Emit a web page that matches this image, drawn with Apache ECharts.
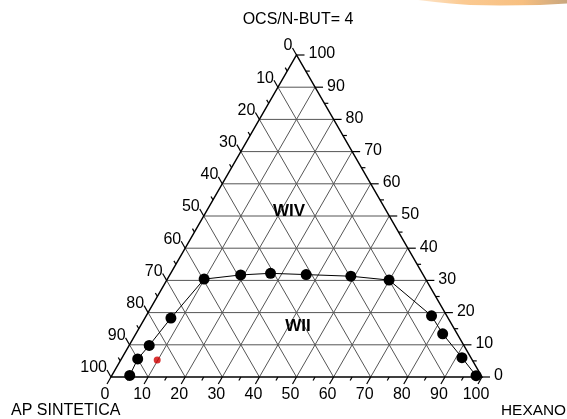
<!DOCTYPE html>
<html><head><meta charset="utf-8">
<script src="https://cdn.jsdelivr.net/npm/echarts@6/dist/echarts.min.js"></script>
<style>html,body{margin:0;padding:0;background:#fff}#c{width:567px;height:419px}</style>
</head><body><div id="c"></div>
<script>
// ---- data ----
const chartTitle = 'OCS/N-BUT= 4';
const bottomAxisName = 'HEXANO';
const leftAxisName = 'AP SINTETICA';
const majorTicks = [0, 10, 20, 30, 40, 50, 60, 70, 80, 90, 100];
const minorTicks = [5, 15, 25, 35, 45, 55, 65, 75, 85, 95];
const gridValues = [10, 20, 30, 40, 50, 60, 70, 80, 90];
// binodal curve: HEXANO % and top component (OCS/N-BUT) %
const curveHexano = [4.8, 4.4, 5.4, 7.0, 9.9, 19.1, 26.9, 36.7, 49.0, 59.9, 76.9, 82.7, 91.6, 98.2];
const curveTop    = [0.5, 5.6, 9.8, 18.3, 30.4, 31.7, 32.2, 31.8, 31.3, 30.1, 19.0, 13.4, 6.0, 0.4];
// extra (red) point
const extraHexano = [9.8];
const extraTop = [5.3];
// region labels
const regionNames = ['WIV', 'WII'];
const regionHexano = [22.2, 42.5];
const regionTop = [51.6, 15.8];

// ---- helpers ----
const SQ = Math.sqrt(3) / 2;
function tern(h, t) { return [h + t / 2, t * SQ]; }
const FONT = '"Liberation Sans", Arial, sans-serif';

const chart = echarts.init(document.getElementById('c'), null, { renderer: 'canvas' });

function renderFrame(params, api) {
  const P = (h, t) => api.coord(tern(h, t));
  const ch = [];
  const gridStyle = { stroke: '#555', lineWidth: 1 };
  const seg = (a, b, style) => ch.push({ type: 'line', shape: { x1: a[0], y1: a[1], x2: b[0], y2: b[1] }, style: style });
  gridValues.forEach(v => {
    seg(P(0, v), P(100 - v, v), gridStyle);          // horizontal (top component)
    seg(P(v, 0), P(v, 100 - v), gridStyle);          // constant hexano
    seg(P(0, 100 - v), P(100 - v, 0), gridStyle);    // constant AP
  });
  // triangle edges
  const A = P(0, 0), B = P(100, 0), C = P(0, 100);
  ch.push({ type: 'polygon', shape: { points: [A, B, C] }, style: { fill: 'none', stroke: '#000', lineWidth: 1.5 } });
  const tickStyle = { stroke: '#000', lineWidth: 1.2 };
  const txt = (x, y, s, align) => ch.push({ type: 'text', x: x, y: y, style: { text: s, font: '16px ' + FONT, fill: '#000', align: align, verticalAlign: 'middle' } });
  const ticks = (list, L) => list.forEach(v => {
    // bottom axis: down-left
    let p = P(v, 0); seg(p, [p[0] - 0.5 * L, p[1] + SQ * L], tickStyle);
    // right axis: horizontal right
    p = P(100 - v, v); seg(p, [p[0] + L, p[1]], tickStyle);
    // left axis: up-left
    p = P(0, 100 - v); seg(p, [p[0] - 0.5 * L, p[1] - SQ * L], tickStyle);
  });
  ticks(majorTicks, 8);
  ticks(minorTicks, 4);
  majorTicks.forEach(v => {
    let p = P(v, 0); txt(p[0] - 6, p[1] + 18, String(v), 'center');
    p = P(100 - v, v); txt(p[0] + 12, p[1] - 1, String(v), 'left');
    p = P(0, 100 - v); txt(p[0] - 4, p[1] - 9, String(v), 'right');
  });
  regionNames.forEach((n, i) => {
    const p = P(regionHexano[i], regionTop[i]);
    ch.push({ type: 'text', x: p[0], y: p[1], style: { text: n, font: 'bold 17px ' + FONT, fill: '#000', align: 'center', verticalAlign: 'middle' } });
  });
  return { type: 'group', children: ch };
}

chart.setOption({
  animation: false,
  grid: { left: 111, right: 85, top: 55, bottom: 42 },
  xAxis: { type: 'value', min: 0, max: 100, show: false },
  yAxis: { type: 'value', min: 0, max: 100 * SQ, show: false },
  graphic: [
    { type: 'polygon', silent: true,
      shape: { points: [[418, 0], [567, 0], [567, 3.5], [540, 5], [500, 5.5], [470, 5], [450, 3.5], [435, 2]] },
      style: { fill: new echarts.graphic.LinearGradient(0, 0, 1, 0, [
        { offset: 0, color: '#fde6cc' }, { offset: 0.3, color: '#fbca92' },
        { offset: 0.7, color: '#f7bf80' }, { offset: 1, color: '#c9a67e' }]) } },
    { type: 'text', x: 298, y: 20, style: { text: chartTitle, font: '16px ' + FONT, fill: '#000', align: 'center', verticalAlign: 'middle' } },
    { type: 'text', x: 11, y: 411, style: { text: leftAxisName, font: '16px ' + FONT, fill: '#000', verticalAlign: 'middle' } },
    { type: 'text', x: 501, y: 411, style: { text: bottomAxisName, font: '15.4px ' + FONT, fill: '#000', verticalAlign: 'middle' } }
  ],
  series: [
    { type: 'custom', coordinateSystem: 'cartesian2d', renderItem: renderFrame, data: [[0, 0]], z: 1, silent: true },
    { type: 'line', data: curveHexano.map((h, i) => tern(h, curveTop[i])), symbol: 'circle', symbolSize: 11,
      lineStyle: { color: '#000', width: 1 }, itemStyle: { color: '#000' }, z: 3 },
    { type: 'scatter', data: extraHexano.map((h, i) => tern(h, extraTop[i])), symbol: 'circle', symbolSize: 7,
      itemStyle: { color: '#d00000' }, z: 4 }
  ]
});
</script></body></html>
